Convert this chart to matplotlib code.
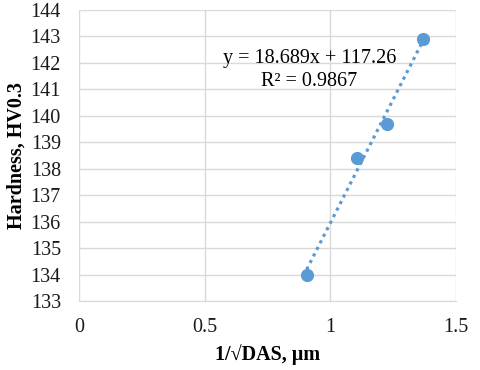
import matplotlib
matplotlib.use("Agg")
import matplotlib.pyplot as plt
import numpy as np

x_vals = [0.906, 1.105, 1.227, 1.370]
y_vals = [134.0, 138.4, 139.7, 142.9]
slope = 18.689
intercept = 117.26
r2 = 0.9867
x_ticks = [0, 0.5, 1, 1.5]
x_tick_labels = ["0", "0.5", "1", "1.5"]
y_ticks = list(range(133, 145))

plt.rcParams['font.family'] = ['Liberation Serif', 'DejaVu Serif']

fig = plt.figure(figsize=(4.8, 3.7), dpi=100)
ax = fig.add_axes([0.1646, 0.1865, 0.7854, 0.7865])

color = '#5b9bd5'
xt = np.array([min(x_vals), max(x_vals)])
ax.plot(xt, slope * xt + intercept, linestyle=(0, (1, 1.3)), color=color,
        linewidth=2.3, zorder=2)
ax.plot(x_vals, y_vals, 'o', color=color, markersize=8.5, zorder=3)

ax.set_xlim(0, 1.5)
ax.set_ylim(133, 144)
ax.set_xticks(x_ticks)
ax.set_xticklabels(x_tick_labels)
ax.set_yticks(y_ticks)
ax.tick_params(axis='both', length=0, labelsize=14.5, colors='#1a1a1a')
ax.tick_params(axis='x', pad=12)
ax.tick_params(axis='y', pad=13)
ax.grid(True, color='#d9d9d9', linewidth=1)
ax.set_axisbelow(True)
for s in ['top', 'right', 'left']:
    ax.spines[s].set_visible(False)
ax.spines['bottom'].set_color('#d9d9d9')

ax.set_xlabel('1/√DAS, μm', fontsize=14.5, fontweight='bold', labelpad=5)
ax.set_ylabel('Hardness, HV0.3', fontsize=14.5, fontweight='bold', labelpad=3)

fig.text(309.5 / 480, 1 - 58 / 370, f"y = {slope}x + {intercept}", ha='center', va='center', fontsize=14.5)
fig.text(309.5 / 480, 1 - 81 / 370, f"R² = {r2}", ha='center', va='center', fontsize=14.5)

fig.savefig('out.png', dpi=100)
